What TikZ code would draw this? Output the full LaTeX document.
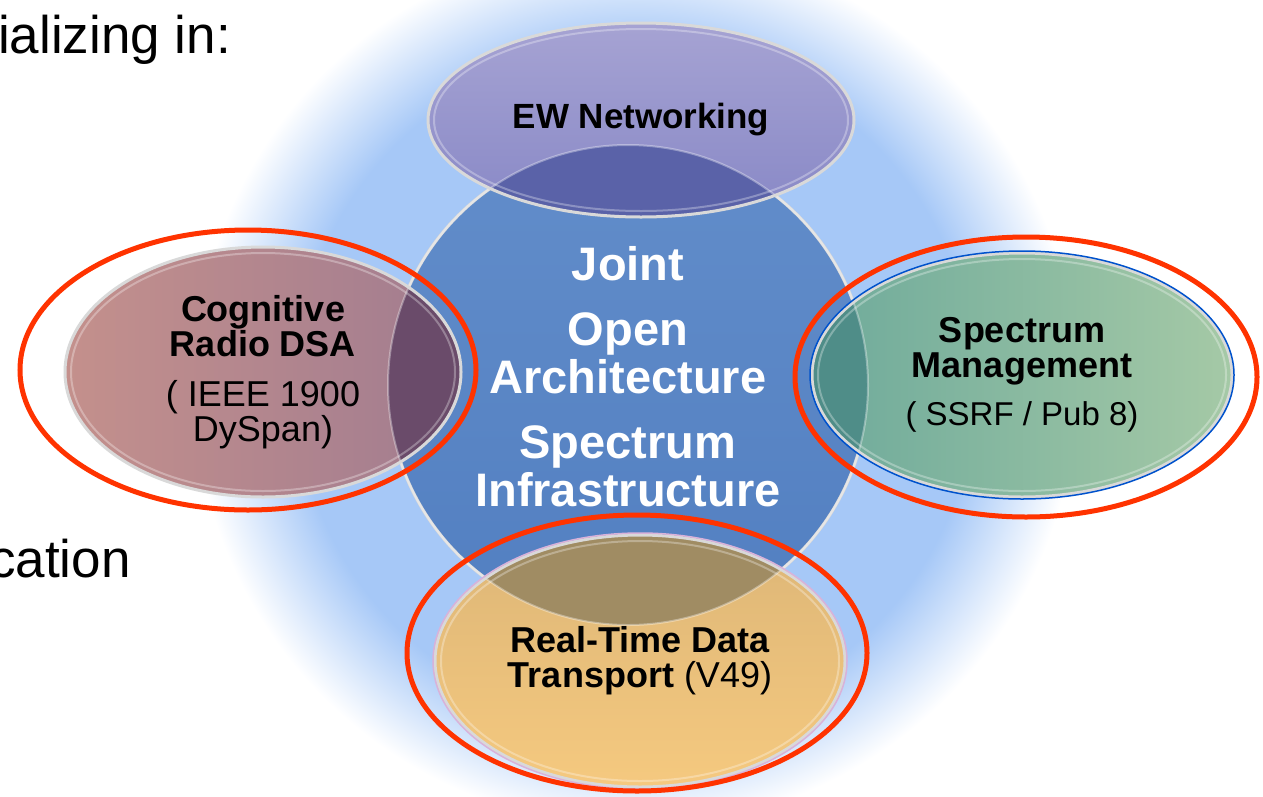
\documentclass[tikz,border=0pt]{standalone}
\usepackage{fontspec}
\setmainfont{Liberation Sans}
\usetikzlibrary{shapes.geometric}
\usepackage{xcolor}

\definecolor{haloblue}{HTML}{A6C8F7}
\definecolor{hubtop}{HTML}{628DCA}
\definecolor{hubbot}{HTML}{527FC1}
\definecolor{ewtop}{HTML}{A6A3D3}
\definecolor{ewbot}{HTML}{8888C6}
\definecolor{ewlap}{HTML}{5A62A8}
\definecolor{cogleft}{HTML}{C4908C}
\definecolor{cogright}{HTML}{A17C90}
\definecolor{coglap}{HTML}{6A4B6A}
\definecolor{specleft}{HTML}{6EAA9B}
\definecolor{specright}{HTML}{A5C9A6}
\definecolor{speclap}{HTML}{4F8D88}
\definecolor{rttop}{HTML}{DDB677}
\definecolor{rtbot}{HTML}{F5C97F}
\definecolor{rtlap}{HTML}{A08C63}
\definecolor{ringred}{HTML}{FF3300}

% soft glow behind the hub (25bp is the edge of the filled path)
\pgfdeclareradialshading{halo}{\pgfpoint{0bp}{0bp}}{color(0bp)=(haloblue); color(10.6bp)=(haloblue); color(12.2bp)=(haloblue!50!white); color(13.8bp)=(white); color(50bp)=(white)}

\begin{document}
\begin{tikzpicture}[x=1pt, y=-1pt,
  bubble/.style={ellipse, inner sep=0pt, outer sep=0pt, align=center,
    font=\fontsize{36}{35}\selectfont},
  rim/.style={draw=white!70!gray, line width=3pt},
  gloss/.style={draw=white, opacity=.3, line width=2pt},
  ring/.style={draw=ringred, line width=5pt},
  side/.style={anchor=base west, inner sep=0pt, font=\fontsize{53}{60}\selectfont}
]
\useasboundingbox (0,0) rectangle (1263,796);
\begin{scope}
  \clip (0,0) rectangle (1263,796);
  \fill[shading=halo] (635,385) circle[radius=800];
\end{scope}

% left hand text of the slide
\node[side] (head) at (-2,53) {ializing in:};
\node[side] (tail) at (-11,577) {cation};

% hub
\node[bubble, minimum size=480pt, top color=hubtop, bottom color=hubbot, text=white,
  text depth=18pt, font=\fontsize{47}{48}\selectfont\bfseries] (hub) at (628,385)
  {Joint\\[17pt]Open\\Architecture\\[17pt]Spectrum\\Infrastructure};
\draw[rim] (hub) circle[radius=240];

% satellites
\node[bubble, minimum width=426pt, minimum height=194pt, top color=ewtop, bottom color=ewbot,
  font=\fontsize{35}{35}\selectfont\bfseries] (ew) at (641,120) {EW Networking};
\node[bubble, minimum width=396pt, minimum height=250pt, left color=cogleft, right color=cogright]
  (cog) at (263,372) {\textbf{Cognitive}\\\textbf{Radio DSA}\\[15pt]( IEEE 1900\\DySpan)};
\node[bubble, minimum width=420pt, minimum height=244pt, left color=specleft, right color=specright]
  (spec) at (1022,375) {\textbf{Spectrum}\\\textbf{Management}\\[13pt]{\fontsize{33}{35}\selectfont( SSRF / Pub 8)}};
\node[bubble, minimum width=410pt, minimum height=252pt, top color=rttop, bottom color=rtbot]
  (rt) at (640,661) {\textbf{Real-Time Data}\\\textbf{Transport} (V49)};

% where the satellites sit on the hub
\begin{scope}
  \clip (hub) circle[radius=240];
  \fill[ewlap] (ew) ellipse[x radius=213, y radius=97];
  \fill[coglap] (cog) ellipse[x radius=198, y radius=125];
  \fill[speclap] (spec) ellipse[x radius=210, y radius=122];
  \fill[rtlap] (rt) ellipse[x radius=205, y radius=126];
\end{scope}
\draw[white, opacity=.35, line width=2pt] (hub) circle[radius=240];

\foreach \n/\rx/\ry in {ew/213/97, cog/198/125, spec/210/122, rt/205/126} {
  \draw[rim] (\n) ellipse[x radius=\rx, y radius=\ry];
  \draw[gloss] (\n) ellipse[x radius=\rx-6, y radius=\ry-6];
}
\draw[blue!60!cyan!80!black, line width=1.5pt] (spec) ellipse[x radius=212, y radius=124];
\draw[violet!30, line width=1.5pt] (rt) ellipse[x radius=207, y radius=128];

% red rings
\foreach \cx/\cy/\rx/\ry in {248/370/228/140, 1026/377/231/140, 637/653/230/138}
  \draw[ring] (\cx,\cy) ellipse[x radius=\rx, y radius=\ry];
\end{tikzpicture}
\end{document}
